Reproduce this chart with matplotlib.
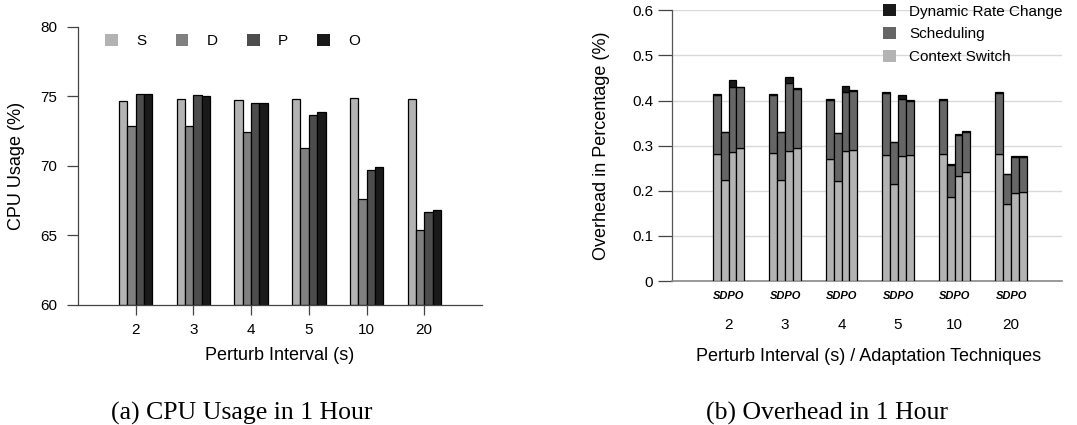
import matplotlib
matplotlib.use("Agg")
import matplotlib.pyplot as plt
from matplotlib.patches import Patch
import numpy as np

plt.rcParams['font.family'] = ['Liberation Sans', 'DejaVu Sans']

intervals = ["2", "3", "4", "5", "10", "20"]
techniques = ["S", "D", "P", "O"]

# (a) CPU usage (%)
cpu_S = [74.65, 74.85, 74.75, 74.85, 74.9, 74.85]
cpu_D = [72.85, 72.9, 72.45, 71.3, 67.6, 65.4]
cpu_P = [75.15, 75.1, 74.5, 73.65, 69.7, 66.7]
cpu_O = [75.2, 75.0, 74.55, 73.9, 69.9, 66.8]

# (b) overhead components (%), per technique, per interval
ctx_S = [0.281, 0.283, 0.271, 0.280, 0.281, 0.281]
ctx_D = [0.224, 0.224, 0.221, 0.214, 0.187, 0.170]
ctx_P = [0.285, 0.289, 0.288, 0.278, 0.232, 0.196]
ctx_O = [0.294, 0.294, 0.291, 0.280, 0.241, 0.197]

sch_S = [0.132, 0.130, 0.131, 0.136, 0.121, 0.135]
sch_D = [0.106, 0.106, 0.106, 0.093, 0.071, 0.067]
sch_P = [0.144, 0.149, 0.132, 0.125, 0.091, 0.079]
sch_O = [0.135, 0.131, 0.130, 0.120, 0.090, 0.078]

drc_S = [0.002, 0.002, 0.002, 0.002, 0.001, 0.002]
drc_D = [0.001, 0.001, 0.001, 0.001, 0.001, 0.001]
drc_P = [0.016, 0.014, 0.012, 0.010, 0.002, 0.002]
drc_O = [0.002, 0.002, 0.002, 0.001, 0.001, 0.003]

cpu_colors = ["#b3b3b3", "#808080", "#4d4d4d", "#1a1a1a"]
c_ctx, c_sch, c_drc = "#b3b3b3", "#666666", "#1a1a1a"

fig = plt.figure(figsize=(10.77, 4.25), dpi=100)

# ---------- (a) ----------
ax1 = fig.add_axes([0.0724, 0.2824, 0.3751, 0.6541])
x = np.arange(1, len(intervals) + 1)
w = 0.145
cpu = [cpu_S, cpu_D, cpu_P, cpu_O]
for k, vals in enumerate(cpu):
    ax1.bar(x + (k - 1.5) * w, np.array(vals) - 60, w, bottom=60,
            color=cpu_colors[k], edgecolor="black", linewidth=0.9)
ax1.set_xlim(0, 7)
ax1.set_ylim(60, 80)
ax1.set_yticks([60, 65, 70, 75, 80])
ax1.set_xticks(x)
ax1.set_xticklabels(intervals)
ax1.tick_params(axis="both", labelsize=11, width=0.9, color="#444444")
ax1.tick_params(axis="y", length=8, pad=7)
ax1.tick_params(axis="x", length=7, pad=6)
for s in ["top", "right"]:
    ax1.spines[s].set_visible(False)
for s in ["left", "bottom"]:
    ax1.spines[s].set_color("#444444")
    ax1.spines[s].set_linewidth(0.9)
ax1.set_ylabel("CPU Usage (%)", fontsize=13)
ax1.yaxis.set_label_coords(-0.131, 0.5)
ax1.set_xlabel("Perturb Interval (s)", fontsize=13)
ax1.xaxis.set_label_coords(0.5, -0.151)
handles = [Patch(facecolor=c, edgecolor="none") for c in cpu_colors]
ax1.legend(handles, techniques, loc="center left", bbox_to_anchor=(0.067, 0.95),
           ncol=4, frameon=False, fontsize=11, handlelength=0.85, handleheight=0.85,
           handletextpad=1.2, columnspacing=1.9, borderpad=0, borderaxespad=0)

# ---------- (b) ----------
ax2 = fig.add_axes([0.624, 0.3388, 0.362, 0.637])
w2 = 0.138
ctx = [ctx_S, ctx_D, ctx_P, ctx_O]
sch = [sch_S, sch_D, sch_P, sch_O]
drc = [drc_S, drc_D, drc_P, drc_O]
for k in range(4):
    pos = x + (k - 1.5) * w2
    c0 = np.array(ctx[k])
    s0 = np.array(sch[k])
    d0 = np.array(drc[k])
    ax2.bar(pos, c0, w2, color=c_ctx, edgecolor="black", linewidth=0.9, zorder=3)
    ax2.bar(pos, s0, w2, bottom=c0, color=c_sch, edgecolor="black", linewidth=0.9, zorder=3)
    ax2.bar(pos, d0, w2, bottom=c0 + s0, color=c_drc, edgecolor="black", linewidth=0.9, zorder=3)
ax2.set_xlim(0, 6.9)
ax2.set_ylim(0, 0.6)
yt = [0, 0.1, 0.2, 0.3, 0.4, 0.5, 0.6]
ax2.set_yticks(yt)
ax2.set_yticklabels(["0"] + ["%.1f" % v for v in yt[1:]])
ax2.grid(axis="y", color="#d9d9d9", linewidth=1.0, zorder=0)
ax2.set_axisbelow(True)
ax2.set_xticks(x)
ax2.set_xticklabels(["SDPO"] * len(x), fontsize=8, fontweight="bold", fontstyle="italic")
ax2.tick_params(axis="x", length=0, pad=7)
ax2.tick_params(axis="y", labelsize=11, length=10, pad=3.5, width=0.9, color="#444444")
for xi, lab in zip(x, intervals):
    ax2.annotate(lab, xy=(xi, 0), xycoords=("data", "axes fraction"),
                 xytext=(0, -32), textcoords="offset points",
                 ha="center", va="center", fontsize=11)
for s in ["top", "right"]:
    ax2.spines[s].set_visible(False)
ax2.spines["left"].set_color("#555555")
ax2.spines["bottom"].set_color("#888888")
ax2.spines["left"].set_linewidth(0.9)
ax2.spines["bottom"].set_linewidth(1.2)
ax2.set_ylabel("Overhead in Percentage (%)", fontsize=13)
ax2.yaxis.set_label_coords(-0.159, 0.5)
ax2.set_xlabel("Perturb Interval (s) / Adaptation Techniques", fontsize=13)
ax2.xaxis.set_label_coords(0.505, -0.247)
h2 = [Patch(facecolor=c_drc, edgecolor="none"),
      Patch(facecolor=c_sch, edgecolor="none"),
      Patch(facecolor=c_ctx, edgecolor="none")]
fig.legend(h2, ["Dynamic Rate Change", "Scheduling", "Context Switch"],
           loc="upper left", bbox_to_anchor=(0.82, 0.99), frameon=False,
           fontsize=11, handlelength=0.85, handleheight=0.85, handletextpad=0.85,
           labelspacing=0.55, borderpad=0, borderaxespad=0)

fig.text(242 / 1077, 1 - 413 / 425, "(a) CPU Usage in 1 Hour", ha="center", va="center",
         fontsize=18.5, family=["Liberation Serif", "DejaVu Serif"])
fig.text(827 / 1077, 1 - 413 / 425, "(b) Overhead in 1 Hour", ha="center", va="center",
         fontsize=18.5, family=["Liberation Serif", "DejaVu Serif"])

fig.savefig("out.png", dpi=100)
